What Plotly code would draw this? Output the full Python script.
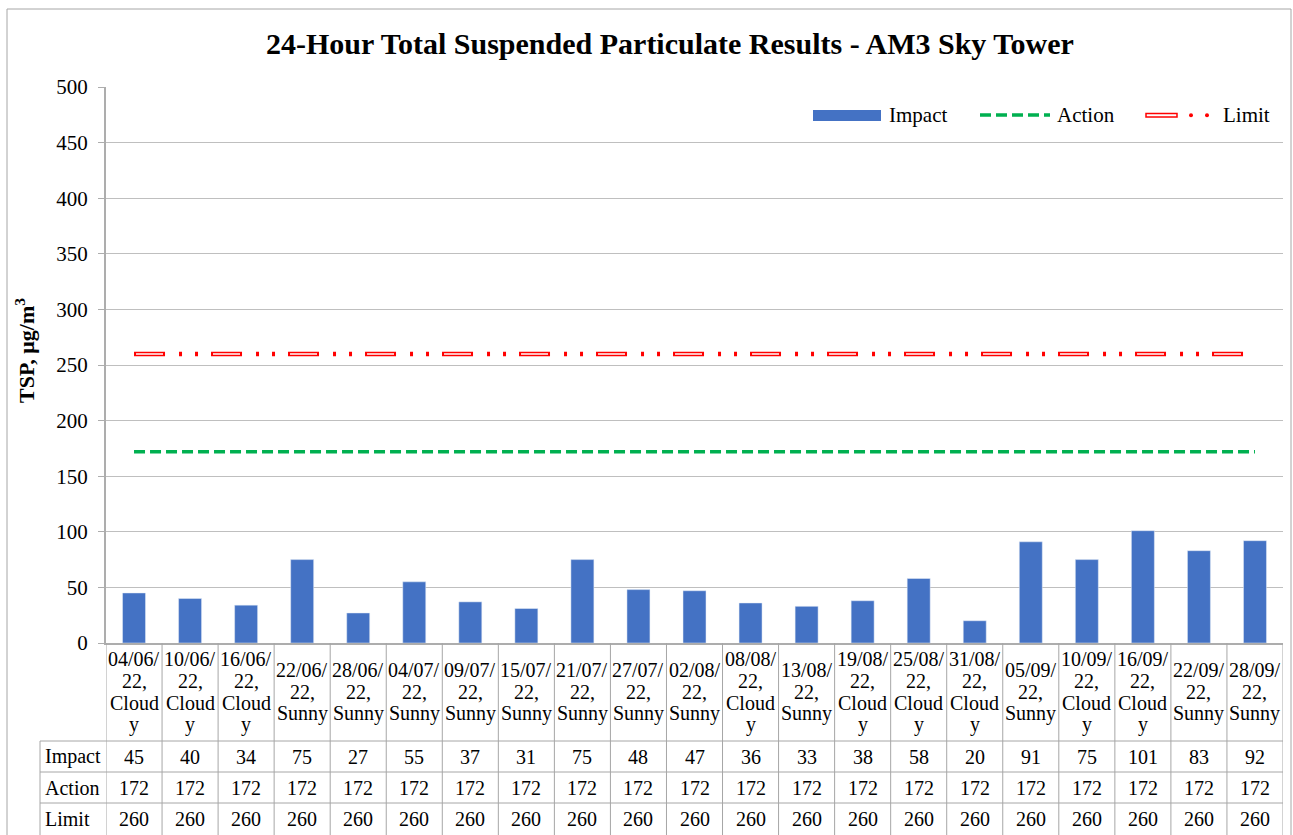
import plotly.graph_objects as go

# ---------------- data ----------------
dates = ["04/06/22", "10/06/22", "16/06/22", "22/06/22", "28/06/22", "04/07/22",
         "09/07/22", "15/07/22", "21/07/22", "27/07/22", "02/08/22", "08/08/22",
         "13/08/22", "19/08/22", "25/08/22", "31/08/22", "05/09/22", "10/09/22",
         "16/09/22", "22/09/22", "28/09/22"]
weather = ["Cloudy", "Cloudy", "Cloudy", "Sunny", "Sunny", "Sunny",
           "Sunny", "Sunny", "Sunny", "Sunny", "Sunny", "Cloudy",
           "Sunny", "Cloudy", "Cloudy", "Cloudy", "Sunny", "Cloudy",
           "Cloudy", "Sunny", "Sunny"]
impact = [45, 40, 34, 75, 27, 55, 37, 31, 75, 48, 47, 36, 33, 38, 58, 20, 91, 75, 101, 83, 92]
action = [172] * 21
limit = [260] * 21
row_names = ["Impact", "Action", "Limit"]
y_ticks = [0, 50, 100, 150, 200, 250, 300, 350, 400, 450, 500]

title = "24-Hour Total Suspended Particulate Results - AM3 Sky Tower"
y_title = "TSP, μg/m<sup>3</sup>"

# ---------------- layout geometry ----------------
W, H = 1293, 835
L, R, T, B = 106, 1283, 87, 643
PW, PH = R - L, B - T
FONT = "Liberation Serif"
GRID = "#BFBFBF"
TABLE = "#A6A6A6"

def px(x):
    return (x - L) / PW

def py(y):
    return (B - y) / PH

n = len(dates)
xs = list(range(n))

def wrap(date, wx):
    lines = [date[:6], date[6:] + ","]
    if len(wx) > 5:
        lines += [wx[:5], wx[5:]]
    else:
        lines.append(wx)
    return lines

fig = go.Figure()
fig.add_trace(go.Bar(x=xs, y=impact, name="Impact", marker_color="#4472C4",
                     width=0.41, showlegend=False))
fig.add_trace(go.Scatter(x=xs, y=action, name="Action", mode="lines",
                         line=dict(color="#00B050", width=3.5, dash="11px,5px"),
                         showlegend=False))
fig.add_trace(go.Scatter(x=xs, y=limit, name="Limit", mode="lines",
                         line=dict(color="#FF0000", width=4.5,
                                   dash="31px,14px,3px,13px,3px,13px"),
                         showlegend=False))
fig.add_trace(go.Scatter(x=xs, y=limit, mode="lines", hoverinfo="skip",
                         line=dict(color="#FFFFFF", width=1.5,
                                   dash="0px,2px,27px,48px"),
                         showlegend=False))

shapes = []
ann = []

# outer border
shapes.append(dict(type="rect", xref="paper", yref="paper",
                   x0=px(7), x1=px(1291), y0=py(9), y1=py(845),
                   line=dict(color="#A6A6A6", width=1), layer="below"))

# title
ann.append(dict(text="<b>" + title + "</b>", xref="paper", yref="paper",
                x=px(670), y=py(43), xanchor="center", yanchor="middle",
                showarrow=False, font=dict(family=FONT, size=30, color="black")))
# y title
ann.append(dict(text="<b>" + y_title + "</b>", xref="paper", yref="paper",
                x=px(25), y=py(351), xanchor="center", yanchor="middle",
                textangle=-90, showarrow=False,
                font=dict(family=FONT, size=22, color="black")))

# legend (manual)
shapes.append(dict(type="rect", xref="paper", yref="paper",
                   x0=px(813), x1=px(881), y0=py(110), y1=py(121),
                   fillcolor="#4472C4", line=dict(width=0)))
ann.append(dict(text="Impact", xref="paper", yref="paper", x=px(887), y=py(115),
                xanchor="left", yanchor="middle", showarrow=False,
                font=dict(family=FONT, size=21, color="black")))
shapes.append(dict(type="line", xref="paper", yref="paper",
                   x0=px(980), x1=px(1050), y0=py(115), y1=py(115),
                   line=dict(color="#00B050", width=3.5, dash="11px,5px")))
ann.append(dict(text="Action", xref="paper", yref="paper", x=px(1055), y=py(115),
                xanchor="left", yanchor="middle", showarrow=False,
                font=dict(family=FONT, size=21, color="black")))
shapes.append(dict(type="rect", xref="paper", yref="paper",
                   x0=px(1146), x1=px(1177), y0=py(113.5), y1=py(117),
                   fillcolor="white", line=dict(color="#FF0000", width=1.5)))
for dx in (1191, 1207):
    shapes.append(dict(type="circle", xref="paper", yref="paper",
                       x0=px(dx - 2), x1=px(dx + 2), y0=py(113.3), y1=py(117.3),
                       fillcolor="#FF0000", line=dict(width=0)))
ann.append(dict(text="Limit", xref="paper", yref="paper", x=px(1221), y=py(115),
                xanchor="left", yanchor="middle", showarrow=False,
                font=dict(family=FONT, size=21, color="black")))

# data table
row_top = 741
row_h = 31
table_bottom = 835
for i in range(n + 1):
    shapes.append(dict(type="line", xref="x", yref="paper",
                       x0=i - 0.5, x1=i - 0.5, y0=py(B), y1=py(table_bottom),
                       line=dict(color=TABLE, width=1)))
shapes.append(dict(type="line", xref="paper", yref="paper",
                   x0=px(40), x1=px(40), y0=py(row_top), y1=py(table_bottom),
                   line=dict(color=TABLE, width=1)))
for k in range(3):
    yy = row_top + k * row_h
    shapes.append(dict(type="line", xref="paper", yref="paper",
                       x0=px(40), x1=px(R), y0=py(yy), y1=py(yy),
                       line=dict(color=TABLE, width=1)))

# category labels
lh = 21.7
cell_c = (B + row_top) / 2
for i, (d, w) in enumerate(zip(dates, weather)):
    lines = wrap(d, w)
    m = len(lines)
    for j, t in enumerate(lines):
        yc = cell_c + (j - (m - 1) / 2) * lh
        ann.append(dict(text=t, xref="x", yref="paper", x=i, y=py(yc),
                        xanchor="center", yanchor="middle", showarrow=False,
                        font=dict(family=FONT, size=20, color="black")))

rows = [impact, action, limit]
for k, (name, vals) in enumerate(zip(row_names, rows)):
    yc = row_top + k * row_h + row_h / 2
    ann.append(dict(text=name, xref="paper", yref="paper", x=px(43), y=py(yc),
                    xanchor="left", yanchor="middle", showarrow=False,
                    font=dict(family=FONT, size=20, color="black")))
    for i, v in enumerate(vals):
        ann.append(dict(text=str(v), xref="x", yref="paper", x=i, y=py(yc),
                        xanchor="center", yanchor="middle", showarrow=False,
                        font=dict(family=FONT, size=20, color="black")))

fig.update_layout(
    width=W, height=H,
    margin=dict(l=L, r=W - R, t=T, b=H - B, pad=0),
    paper_bgcolor="white", plot_bgcolor="white",
    showlegend=False,
    shapes=shapes, annotations=ann,
    xaxis=dict(range=[-0.5, n - 0.5], showticklabels=False, showgrid=False,
               zeroline=False, showline=True, linecolor="#ADADAD", linewidth=2,
               ticks="", fixedrange=True),
    yaxis=dict(range=[0, 500], tickvals=y_ticks, showgrid=True, gridcolor=GRID,
               gridwidth=1, zeroline=False, showline=True, linecolor="#ADADAD",
               linewidth=2, ticks="outside", ticklen=6, tickcolor="#ADADAD",
               ticklabelstandoff=6,
               tickfont=dict(family=FONT, size=21, color="black"), fixedrange=True),
    bargap=0.59,
)

fig.write_html("out.html", post_script="document.body.style.margin='0';",
               config={"displayModeBar": False})
